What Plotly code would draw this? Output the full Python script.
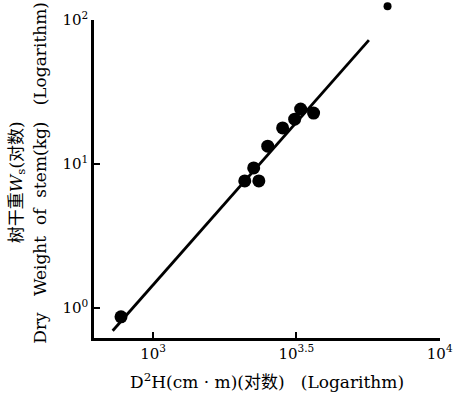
import math
import plotly.graph_objects as go

# Stem dry weight vs D^2H (both on log scales)
d2h = [773, 2089, 2339, 2244, 2512, 2831, 3119, 3272, 3631]
stem_weight = [0.866, 7.62, 7.62, 9.38, 13.3, 17.8, 20.5, 24.1, 22.6]

# point lying above the plotted range
outlier_d2h = [6577]
outlier_weight = [125]

# fitted regression line endpoints: log W = -6.621 + 2.26 log(D^2H)
fit_d2h = [723, 5662]
fit_weight = [0.692, 72.6]

x_tickvals = [1000, 3162.2777, 10000]
x_ticktext = ["10<sup>3</sup>", "10<sup>3.5</sup>", "10<sup>4</sup>"]
y_tickvals = [1, 10, 100]
y_ticktext = ["10<sup>0</sup>", "10<sup>1</sup>", "10<sup>2</sup>"]

X_RANGE = [2.794, 4.001]
Y_RANGE = [-0.21, 2.001]

FONT = "DejaVu Serif, Noto Sans CJK SC"

fig = go.Figure()
fig.add_trace(go.Scatter(
    x=fit_d2h, y=fit_weight, mode="lines",
    line=dict(color="black", width=2.8), showlegend=False,
))
fig.add_trace(go.Scatter(
    x=d2h, y=stem_weight, mode="markers",
    marker=dict(color="black", size=13), showlegend=False,
))

annotations = [
    dict(
        text="D<sup>2</sup>H(cm · m)(对数)   (Logarithm)",
        xref="paper", yref="paper", x=0.5, y=-0.135,
        showarrow=False, font=dict(family=FONT, size=17),
        xanchor="center", yanchor="middle",
    ),
    dict(
        text="树干重<i>W</i><sub>s</sub>(对数)",
        xref="paper", yref="paper", x=-0.2225, y=0.49,
        showarrow=False, textangle=-90, font=dict(family=FONT, size=17),
        xanchor="center", yanchor="middle",
    ),
    dict(
        text="Dry   Weight  of  stem(kg)   (Logarithm)",
        xref="paper", yref="paper", x=-0.156, y=0.52,
        showarrow=False, textangle=-90, font=dict(family=FONT, size=17),
        xanchor="center", yanchor="middle",
    ),
]


def to_paper(v, rng):
    return (math.log10(v) - rng[0]) / (rng[1] - rng[0])


# the out-of-range point is drawn as an unclipped circle
shapes = []
for ox, oy in zip(outlier_d2h, outlier_weight):
    shapes.append(dict(
        type="circle", xref="paper", yref="paper",
        xsizemode="pixel", ysizemode="pixel",
        xanchor=to_paper(ox, X_RANGE), yanchor=to_paper(oy, Y_RANGE),
        x0=-4, x1=4, y0=-4, y1=4,
        fillcolor="black", line=dict(width=0),
    ))

fig.update_layout(
    width=453, height=395,
    margin=dict(l=94, r=13, t=20, b=57),
    paper_bgcolor="white", plot_bgcolor="white",
    font=dict(family=FONT, color="black", size=14),
    xaxis=dict(
        type="log", range=X_RANGE, automargin=False,
        showgrid=False, zeroline=False,
        showline=True, linecolor="black", linewidth=2.5,
        ticks="inside", ticklen=6, tickwidth=2, tickcolor="black",
        tickvals=x_tickvals, ticktext=x_ticktext,
        tickfont=dict(family=FONT, size=15),
        ticklabeloverflow="allow",
    ),
    yaxis=dict(
        type="log", range=Y_RANGE, automargin=False,
        showgrid=False, zeroline=False,
        showline=True, linecolor="black", linewidth=2.5,
        ticks="inside", ticklen=6, tickwidth=2, tickcolor="black",
        tickvals=y_tickvals, ticktext=y_ticktext,
        tickfont=dict(family=FONT, size=15),
        ticklabeloverflow="allow",
    ),
    annotations=annotations,
    shapes=shapes,
)

fig.write_html("out.html")
